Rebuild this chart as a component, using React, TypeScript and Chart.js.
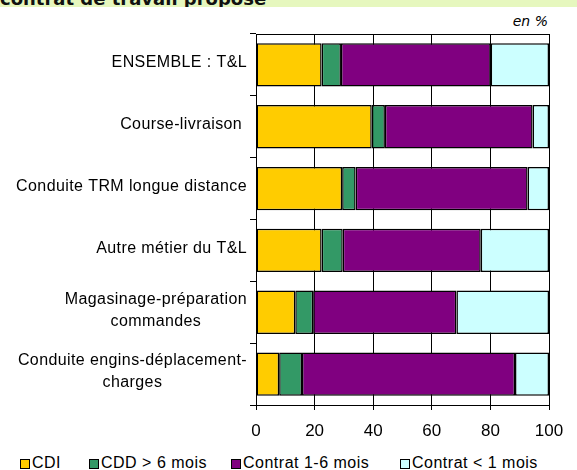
import React, { useEffect, useRef } from "react";
import { Chart, registerables } from "chart.js";

Chart.register(...registerables);

const categories: string[][] = [
  ["ENSEMBLE : T&L"],
  ["Course-livraison "],
  ["Conduite TRM longue distance"],
  ["Autre métier du T&L"],
  ["Magasinage-préparation", "commandes"],
  ["Conduite engins-déplacement-", "charges"],
];
const seriesNames = ["CDI", "CDD > 6 mois", "Contrat 1-6 mois", "Contrat < 1 mois"];
const cdi = [22.4, 39.5, 29.4, 22.4, 13.4, 7.9];
const cdd6 = [6.6, 4.5, 4.6, 7.2, 6.1, 7.8];
const contrat16 = [51.1, 50.4, 58.7, 47.1, 48.9, 72.7];
const contrat1 = [19.9, 5.6, 7.3, 23.3, 31.6, 11.6];
const xMin = 0;
const xMax = 100;
const xStep = 20;
const title = "contrat de travail proposé";
const unitNote = "en %";

const colors = ["#FFCC00", "#339966", "#800080", "#CCFFFF"];
const legendLeft = [20, 89, 231, 400];
const FONT = "'Liberation Sans', Arial, sans-serif";

const yLabelPlugin = {
  id: "yLabels",
  afterDraw(chart: any) {
    const ctx = chart.ctx;
    const ys = chart.scales.y;
    ctx.save();
    ctx.font = `16px ${FONT}`;
    try {
      (ctx as any).letterSpacing = "0.4px";
    } catch (e) {}
    ctx.fillStyle = "#000";
    ctx.textBaseline = "middle";
    ctx.textAlign = "center";
    const right = chart.chartArea.left - 9;
    const lh = 22;
    categories.forEach((lines, i) => {
      const yc = ys.getPixelForValue(i) - 2;
      const widths = lines.map((l) => ctx.measureText(l).width);
      const maxW = Math.max(...widths);
      const cx = right - maxW / 2;
      lines.forEach((l, k) => {
        ctx.fillText(l, cx, yc + (k - (lines.length - 1) / 2) * lh);
      });
    });
    ctx.restore();
  },
};

const borderPlugin = {
  id: "plotBorder",
  afterDatasetsDraw(chart: any) {
    const { left, right, top, bottom } = chart.chartArea;
    const ctx = chart.ctx;
    ctx.save();
    ctx.strokeStyle = "#000";
    ctx.lineWidth = 1;
    ctx.strokeRect(Math.round(left) + 0.5, Math.round(top) + 0.5, Math.round(right) - Math.round(left), Math.round(bottom) - Math.round(top));
    ctx.restore();
  },
};

export default function App() {
  const ref = useRef<HTMLCanvasElement | null>(null);

  useEffect(() => {
    if (!ref.current) return;
    const series = [cdi, cdd6, contrat16, contrat1];
    const chart = new Chart(ref.current, {
      type: "bar",
      data: {
        labels: categories.map((c) => c.join(" ")),
        datasets: series.map((d, i) => ({
          label: seriesNames[i],
          data: d,
          backgroundColor: colors[i],
          borderColor: "#000",
          borderWidth: 1.5,
          borderSkipped: false,
          categoryPercentage: 0.7,
          barPercentage: 1,
        })),
      },
      options: {
        indexAxis: "y",
        responsive: false,
        animation: false,
        layout: { padding: { top: 34, right: 28, left: 0, bottom: 0 } },
        plugins: {
          legend: { display: false },
          tooltip: { enabled: false },
          title: { display: false },
        },
        scales: {
          x: {
            stacked: true,
            min: xMin,
            max: xMax,
            ticks: {
              stepSize: xStep,
              color: "#000",
              font: { family: FONT, size: 17 },
              padding: 11,
            },
            grid: {
              color: "#000",
              lineWidth: 1,
              tickLength: 5,
              drawOnChartArea: true,
            },
            border: { color: "#000", width: 1 },
            afterFit: (s: any) => {
              s.height = 40;
            },
          },
          y: {
            stacked: true,
            ticks: { display: false },
            grid: {
              color: "#000",
              drawOnChartArea: false,
              tickLength: 6,
              offset: true,
            },
            border: { color: "#000", width: 1 },
            afterFit: (s: any) => {
              s.width = 256;
            },
          },
        },
      },
      plugins: [yLabelPlugin, borderPlugin],
    });
    return () => chart.destroy();
  }, []);

  return (
    <div style={{ position: "absolute", left: 0, top: 0, width: 577, height: 470, background: "#fff", overflow: "hidden" }}>
      <div style={{ position: "absolute", left: 0, top: 0, width: 577, height: 7, background: "#E6F7BE", overflow: "hidden" }}>
        <div style={{ position: "absolute", left: 0, top: -12, font: "bold 18px 'DejaVu Sans', sans-serif", lineHeight: "21px", whiteSpace: "nowrap", color: "#111" }}>
          {title}
        </div>
      </div>
      <div style={{ position: "absolute", left: 448, top: 13, width: 100, textAlign: "right", font: "italic 14px 'Liberation Sans Narrow', 'DejaVu Sans', sans-serif", lineHeight: "16px", color: "#000" }}>
        {unitNote}
      </div>
      <canvas ref={ref} width={577} height={445} style={{ position: "absolute", left: 0, top: 0 }} />
      {seriesNames.map((n, i) => (
        <div key={n} style={{ position: "absolute", left: legendLeft[i], top: 454, display: "flex", alignItems: "center", font: `16px ${FONT}`, letterSpacing: "0.5px", lineHeight: "18px", color: "#000", whiteSpace: "nowrap" }}>
          <span style={{ display: "inline-block", width: 10, height: 10, boxSizing: "border-box", border: "1px solid #000", background: colors[i], marginRight: 2, transform: "translateY(1px)" }} />
          <span>{n}</span>
        </div>
      ))}
    </div>
  );
}
